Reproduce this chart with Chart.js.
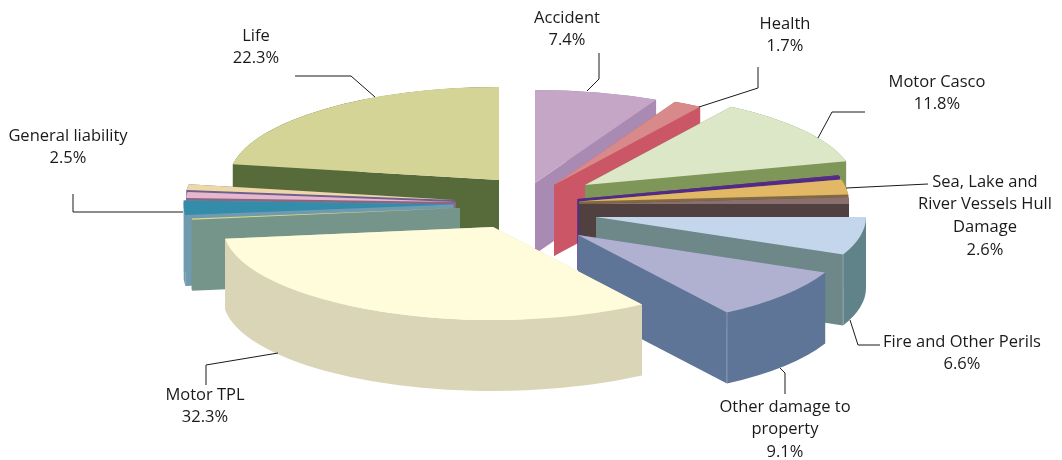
<!DOCTYPE html>
<html>
<head>
<meta charset="utf-8">
<style>
html, body { margin: 0; padding: 0; background: #fff; }
canvas { display: block; }
</style>
<script src="https://cdn.jsdelivr.net/npm/chart.js@4"></script>
</head>
<body>
<canvas id="premiumChart" width="1062" height="460"></canvas>
<script>
// clockwise from 12 o'clock, empty names are the small unlabelled slices
const categories = ['Accident', 'Health', 'Motor Casco', '', 'Sea, Lake and River Vessels Hull Damage', '',
    'Fire and Other Perils', 'Other damage to property', 'Motor TPL', '', 'General liability', '', '', 'Life'];
const shares = [7.4, 1.7, 11.8, 0.3, 2.6, 1.2, 6.6, 9.1, 32.3, 0.2, 2.5, 1.0, 1.0, 22.3];

const topColors = ['#c5a6c6', '#d88a8a', '#dbe7c6', '#5e2a86', '#e2b765', '#8b6e6e',
    '#c4d6ec', '#b0b1d1', '#fffcdb', '#dcdc8c', '#338ca9', '#e6b8d0', '#eed8a8', '#d4d497'];
const sideColors = ['#a98ab3', '#cb5666', '#7f9659', '#4f2c88', '#7f6b3f', '#50403f',
    '#6e8889', '#5f7597', '#dbd5b7', '#76958a', '#6f9ab0', '#8a6780', '#6e5f90', '#566b39'];
const rimColors = ['#a98ab3', '#cb5666', '#7f9659', '#4f2c88', '#7f6b3f', '#50403f',
    '#5f8389', '#5f7597', '#dbd5b7', '#76958a', '#6f9ab0', '#8a6780', '#6e5f90', '#566b39'];

// where each wedge's tip sits on the page, the pie is pulled apart by hand
const tipX = [535, 554, 585, 577.5, 579, 579, 596, 578, 493, 460, 453.5, 456, 455, 499];
const tipY = [183, 185, 185, 199, 201.5, 204, 217, 235, 227, 208, 204.5, 202, 200, 180];
const paintOrder = [13, 0, 1, 2, 3, 4, 5, 6, 7, 12, 11, 10, 9, 8];
const seamSlices = [6, 7];

const radiusX = 270;
const radiusY = 93;
const depth = 71;

const labelLines = [
    ['Accident'], ['Health'], ['Motor Casco'], [], ['Sea, Lake and', 'River Vessels Hull', 'Damage'], [],
    ['Fire and Other Perils'], ['Other damage to', 'property'], ['Motor TPL'], [], ['General liability'], [], [], ['Life']
];
const labelX = [567, 785, 937, 0, 985, 0, 962, 785, 205, 0, 68, 0, 0, 256];
const labelY = [18, 24, 82, 0, 182, 0, 342, 407, 395, 0, 136, 0, 0, 36];
const leaders = [
    [[599, 53], [599, 79], [587, 91]],
    [[758, 67], [758, 88], [699, 107]],
    [[865, 112], [832, 112], [818, 138]],
    [[846, 188], [928, 184]],
    [[850, 320], [858, 345], [880, 345]],
    [[780, 368], [785, 373], [785, 394]],
    [[206, 385], [206, 365], [278, 353]],
    [[73, 194], [73, 212], [183, 212]],
    [[295, 76], [351, 76], [375, 97]]
];

function drawTop(ctx, arc, i) {
    ctx.save();
    ctx.translate(tipX[i], tipY[i]);
    ctx.scale(radiusX / arc.outerRadius, radiusY / arc.outerRadius);
    ctx.translate(-arc.x, -arc.y);
    arc.draw(ctx);
    ctx.restore();
}

// thickness of one slice: the two cut faces, then the outer rim, from the arc's own angles
function drawSides(ctx, arc, i) {
    const x = tipX[i], y = tipY[i];
    const a0 = arc.startAngle, a1 = arc.endAngle;
    ctx.fillStyle = sideColors[i];
    [a0, a1].forEach(a => {
        const ex = x + radiusX * Math.cos(a), ey = y + radiusY * Math.sin(a);
        ctx.beginPath();
        ctx.moveTo(x, y);
        ctx.lineTo(ex, ey);
        ctx.lineTo(ex, ey + depth);
        ctx.lineTo(x, y + depth);
        ctx.closePath();
        ctx.fill();
    });
    ctx.fillStyle = rimColors[i];
    ctx.beginPath();
    ctx.ellipse(x, y, radiusX, radiusY, 0, a0, a1);
    ctx.ellipse(x, y + depth, radiusX, radiusY, 0, a1, a0, true);
    ctx.closePath();
    ctx.fill();
    if (seamSlices.includes(i)) {
        const ex = x + radiusX * Math.cos(a1), ey = y + radiusY * Math.sin(a1);
        ctx.strokeStyle = 'rgba(255,255,255,0.25)';
        ctx.lineWidth = 1;
        ctx.beginPath();
        ctx.moveTo(ex, ey);
        ctx.lineTo(ex, ey + depth);
        ctx.stroke();
    }
}

const tiltedPie = {
    id: 'tiltedPie',
    beforeDatasetsDraw(chart) {
        const ctx = chart.ctx;
        const arcs = chart.getDatasetMeta(0).data;
        paintOrder.forEach(i => {
            drawSides(ctx, arcs[i], i);
            drawTop(ctx, arcs[i], i);
        });
        return false;
    },
    afterDraw(chart) {
        const ctx = chart.ctx;
        ctx.save();
        ctx.strokeStyle = '#1a1a1a';
        ctx.lineWidth = 1;
        leaders.forEach(line => {
            ctx.beginPath();
            line.forEach((p, k) => k ? ctx.lineTo(p[0], p[1]) : ctx.moveTo(p[0], p[1]));
            ctx.stroke();
        });
        ctx.fillStyle = '#1a1a1a';
        ctx.font = '16.5px "Open Sans"';
        ctx.textAlign = 'center';
        ctx.textBaseline = 'middle';
        labelLines.forEach((lines, i) => {
            if (!lines.length) return;
            const rows = lines.concat(shares[i].toFixed(1) + '%');
            rows.forEach((row, k) => ctx.fillText(row, labelX[i], labelY[i] + k * 22.7));
        });
        ctx.restore();
    }
};

new Chart(document.getElementById('premiumChart'), {
    type: 'pie',
    data: {
        labels: categories,
        datasets: [{
            data: shares,
            backgroundColor: topColors,
            borderWidth: 0
        }]
    },
    options: {
        responsive: false,
        animation: false,
        events: [],
        plugins: {
            legend: { display: false },
            tooltip: { enabled: false }
        }
    },
    plugins: [tiltedPie]
});
</script>
</body>
</html>
